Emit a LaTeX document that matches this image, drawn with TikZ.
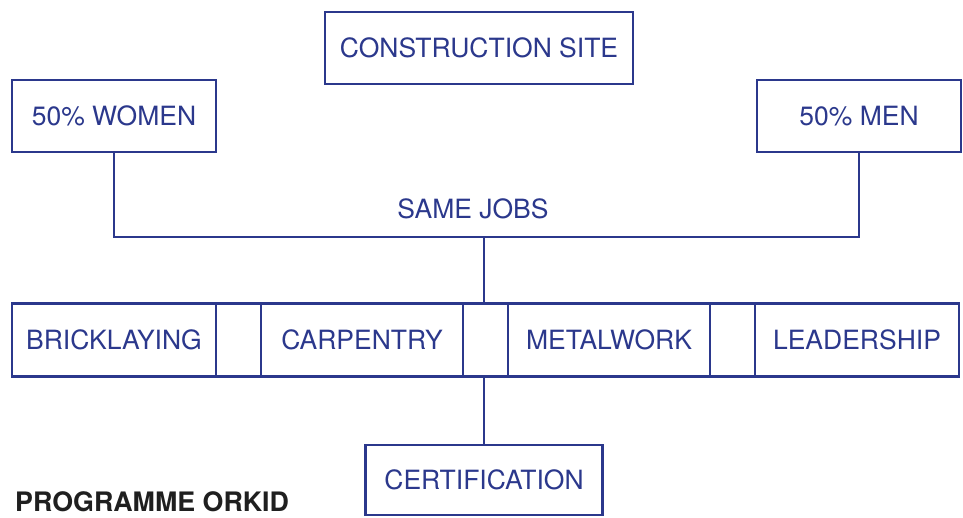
\documentclass[tikz,border=0pt]{standalone}
\usepackage{fontspec}
\setmainfont{TeX Gyre Heros}
\usetikzlibrary{positioning,calc}
\definecolor{orkblue}{RGB}{43,56,140}
\tikzset{
  obox/.style  ={draw=orkblue, line width=2.5pt, outer sep=0pt, inner sep=0pt,
                 minimum width=204pt, minimum height=72pt, text=orkblue,
                 font=\fontsize{26.5}{30}\selectfont},
  olbl/.style  ={text=orkblue, inner sep=0pt, font=\fontsize{26.5}{30}\selectfont},
  ttl/.style   ={text=black!88, inner sep=0pt, font=\fontsize{26.8}{30}\selectfont\bfseries},
  oline/.style ={draw=orkblue, line width=2.5pt},
}
\begin{document}
\begin{tikzpicture}[x=1pt, y=-1pt, node distance=45pt]
\useasboundingbox (0,0) rectangle (963,517);
\node[obox, minimum width=308pt] (site) at (479,48) {CONSTRUCTION SITE};
\node[obox] (women) at (114,116) {50\% WOMEN};
\node[obox] (men) at (859,116) {50\% MEN};
\node[olbl] (same) at (473,209) {SAME JOBS};
\coordinate (joint) at (484,237);
\node[obox, minimum height=73pt] (brick) at (114,340) {BRICKLAYING};
\node[obox, minimum height=73pt, minimum width=202pt, right=of brick] (carp) {CARPENTRY};
\node[obox, minimum height=73pt, minimum width=202pt, right=of carp] (metal) {METALWORK};
\node[obox, minimum height=73pt, right=of metal] (lead) {LEADERSHIP};
\node[obox, minimum width=237pt, minimum height=70pt] (cert) at (484,480) {CERTIFICATION};
\node[ttl, anchor=base west] (prog) at (15,511) {PROGRAMME ORKID};
% women and men joined, then down to the trades
\draw[oline] (women.south) -- (women.south |- joint) -- (men.south |- joint) -- (men.south);
\draw[oline] (joint) -- (joint |- carp.north);
% gaps between the trades
\foreach \a/\b in {brick/carp, carp/metal, metal/lead} {
  \draw[oline] (\a.north east) -- (\b.north west);
  \draw[oline] (\a.south east) -- (\b.south west);
}
\draw[oline] (cert.north) -- (cert.north |- carp.south);
\end{tikzpicture}
\end{document}
